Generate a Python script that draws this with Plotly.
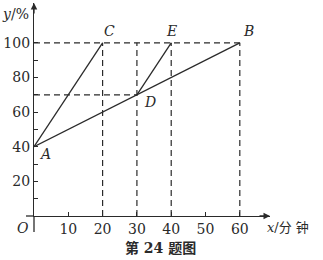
import plotly.graph_objects as go

# ---- data ----
ac_x = [0, 20]
ac_y = [40, 100]
adb_x = [0, 30, 60]
adb_y = [40, 70, 100]
de_x = [30, 40]
de_y = [70, 100]

point_names = ["A", "C", "D", "E", "B"]
point_x = [0, 20, 30, 40, 60]
point_y = [40, 100, 70, 100, 100]

x_ticks = [10, 20, 30, 40, 50, 60]
y_ticks = [10, 20, 30, 40, 50, 60, 70, 80, 90, 100]
y_tick_text = ["", "20", "", "40", "", "60", "", "80", "", "100"]

# dashed guides
guides_h = [(0, 100, 60), (0, 70, 30)]
guides_v = [20, 30, 40, 60]

X_MAX = 68.8
Y_MAX = 123

FONT = "DejaVu Serif, Noto Sans CJK SC"
INK = "#2a2a2a"

fig = go.Figure()

# dashed guide lines
for x0, y, x1 in guides_h:
    fig.add_trace(go.Scatter(x=[x0, x1], y=[y, y], mode="lines",
                             line=dict(color=INK, width=1.2, dash="6px,4px"),
                             hoverinfo="skip", showlegend=False))
for gx in guides_v:
    fig.add_trace(go.Scatter(x=[gx, gx], y=[0, 100], mode="lines",
                             line=dict(color=INK, width=1.2, dash="6px,4px"),
                             hoverinfo="skip", showlegend=False))

# solid lines
for xs, ys in [(ac_x, ac_y), (adb_x, adb_y), (de_x, de_y)]:
    fig.add_trace(go.Scatter(x=xs, y=ys, mode="lines",
                             line=dict(color=INK, width=1.3),
                             hoverinfo="skip", showlegend=False))

# point labels (pixel offsets: right, down)
offsets = {"A": (11, 7), "C": (7, -12), "D": (13, 7), "E": (0, -12), "B": (9, -12)}
for n, px, py in zip(point_names, point_x, point_y):
    dx, dy = offsets[n]
    fig.add_annotation(x=px, y=py, text=f"<i>{n}</i>", showarrow=False,
                       xshift=dx, yshift=-dy, font=dict(family=FONT, size=14, color=INK))

# axis arrows
fig.add_annotation(x=X_MAX, y=0, ax=-12, ay=0, text="", showarrow=True,
                   arrowhead=2, arrowsize=1, arrowwidth=1.3, arrowcolor=INK,
                   xref="x", yref="y")
fig.add_annotation(x=0, y=Y_MAX, ax=0, ay=12, text="", showarrow=True,
                   arrowhead=2, arrowsize=1, arrowwidth=1.3, arrowcolor=INK,
                   xref="x", yref="y")

# axis extensions beyond origin
fig.add_shape(type="line", xref="paper", yref="paper", x0=0, x1=0, y0=0, y1=-16 / 213,
              line=dict(color=INK, width=1.3))
fig.add_shape(type="line", xref="paper", yref="paper", x0=0, x1=-8 / 236, y0=0, y1=0,
              line=dict(color=INK, width=1.3))

# axis titles and captions
fig.add_annotation(xref="paper", yref="paper", x=-34 / 236, y=1 - 11 / 213, xanchor="left",
                   yanchor="middle", text="<i>y</i>/%", showarrow=False,
                   font=dict(family=FONT, size=14, color=INK))
fig.add_annotation(xref="paper", yref="paper", x=(265 - 34) / 236, y=-12 / 213, xanchor="left",
                   yanchor="middle", text="<i>x</i>/分 钟", showarrow=False,
                   font=dict(family=FONT, size=13, color=INK))
fig.add_annotation(xref="paper", yref="paper", x=(23 - 34) / 236, y=-12 / 213, xanchor="center",
                   yanchor="middle", text="<i>O</i>", showarrow=False,
                   font=dict(family=FONT, size=14, color=INK))
fig.add_annotation(xref="paper", yref="paper", x=(160 - 34) / 236, y=-32 / 213, xanchor="center",
                   yanchor="middle", text="<b>第 24 题图</b>", showarrow=False,
                   font=dict(family=FONT, size=14, color=INK))

fig.update_xaxes(range=[0, X_MAX], showgrid=False, zeroline=False, showline=True,
                 linecolor=INK, linewidth=1.3, ticks="inside", ticklen=4, tickwidth=1.2,
                 tickcolor=INK, tickvals=x_ticks, ticktext=[str(v) for v in x_ticks],
                 tickfont=dict(family=FONT, size=14, color=INK))
fig.update_yaxes(range=[0, Y_MAX], showgrid=False, zeroline=False, showline=True,
                 linecolor=INK, linewidth=1.3, ticks="inside", ticklen=4, tickwidth=1.2,
                 tickcolor=INK, tickvals=y_ticks, ticktext=y_tick_text,
                 tickfont=dict(family=FONT, size=14, color=INK))

fig.update_layout(width=323, height=260, margin=dict(l=34, r=53, t=3, b=44),
                  plot_bgcolor="white", paper_bgcolor="white", showlegend=False)

fig.write_html("out.html")
